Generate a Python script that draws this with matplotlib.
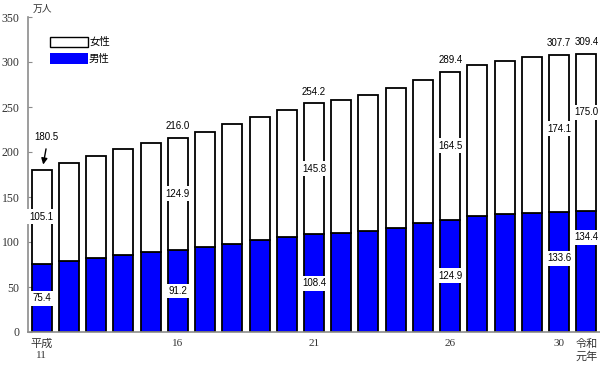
import matplotlib
matplotlib.use("Agg")
import matplotlib.pyplot as plt
from matplotlib.patches import Rectangle
import numpy as np

plt.rcParams['font.family'] = ['Noto Sans CJK JP', 'DejaVu Sans']

# 平成11年 ~ 令和元年 (万人)
years = ["平成\n11", "", "", "", "", "16", "", "", "", "", "21", "", "", "", "", "26", "", "", "", "30", "令和\n元年"]
total = [180.5, 188.0, 196.1, 203.8, 209.7, 216.0, 222.7, 231.3, 239.0, 246.8, 254.2,
         258.3, 263.1, 270.8, 280.4, 289.4, 296.8, 301.6, 305.4, 307.7, 309.4]
male = [75.4, 78.9, 82.6, 85.6, 88.9, 91.2, 94.4, 98.0, 101.8, 105.6, 108.4,
        110.4, 112.2, 116.1, 120.7, 124.9, 128.9, 130.8, 132.6, 133.6, 134.4]
female = [105.1, 109.1, 113.5, 118.2, 120.8, 124.9, 128.3, 133.3, 137.2, 141.2, 145.8,
          147.9, 150.9, 154.7, 159.7, 164.5, 167.9, 170.8, 172.8, 174.1, 175.0]
labeled = [0, 5, 10, 15, 19, 20]
# shift of the female / male labels for the last two bars (so they don't line up)
shift = {19: (5, 15), 20: (22, 38)}

num_font = "Liberation Serif"
val_font = "Liberation Sans"
grey = "#8c8c8c"

fig = plt.figure(figsize=(6, 3.65), dpi=100)
ax = fig.add_axes([28/600, 33/365, 572/600, 315/365])

x = np.arange(len(total))
w = 0.735
ax.bar(x, male, w, color="#0000ff", edgecolor="black", linewidth=1.3, zorder=2)
ax.bar(x, female, w, bottom=male, color="white", edgecolor="black", linewidth=1.3, zorder=2)

box = dict(boxstyle="square,pad=0.25", facecolor="white", edgecolor="none")
vs = 7
for i in labeled:
    df, dm = shift.get(i, (0, 0))
    ax.text(x[i], male[i] + female[i] / 2 + df, "%.1f" % female[i], ha="center", va="center",
            fontsize=vs, family=val_font, bbox=box, zorder=4)
    ax.text(x[i], male[i] / 2 + dm, "%.1f" % male[i], ha="center", va="center",
            fontsize=vs, family=val_font, bbox=box, zorder=4)
    if i == 0:
        ax.text(x[i] + 0.19, total[i] + 36.5, "%.1f" % total[i], ha="center", va="center",
                fontsize=vs, family=val_font)
        ax.annotate("", xy=(x[i] + 0.04, total[i] + 2.5), xytext=(x[i] + 0.18, total[i] + 26),
                    arrowprops=dict(arrowstyle="-|>", color="black", lw=1, mutation_scale=9))
    else:
        ax.text(x[i], total[i] + 13, "%.1f" % total[i], ha="center", va="center",
                fontsize=vs, family=val_font)

ax.set_xlim(-0.5, 20.5)
ax.set_ylim(0, 350)
ax.set_yticks(np.arange(0, 351, 50))
ax.set_xticks(x)
ax.set_xticklabels(years, fontsize=8, family=["Liberation Serif", "Noto Sans CJK JP"], va="top",
                   linespacing=1.25)
for lab in ax.get_yticklabels():
    lab.set_family(num_font)
    lab.set_fontsize(8.5)
ax.tick_params(axis="y", direction="in", length=3, color=grey, pad=6, labelcolor="#333333")
ax.tick_params(axis="x", length=0, pad=5, labelcolor="#333333")
for s in ["top", "right"]:
    ax.spines[s].set_visible(False)
for s in ["left", "bottom"]:
    ax.spines[s].set_color(grey)
    ax.spines[s].set_linewidth(1.2)

fig.text(33/600, 1 - 9/365, "万人", fontsize=7, va="center", ha="left", color="#333333")

# legend
fig.patches.append(Rectangle((50/600, 1 - 47/365), 38/600, 10/365, transform=fig.transFigure,
                             facecolor="white", edgecolor="black", linewidth=1))
fig.patches.append(Rectangle((50/600, 1 - 64/365), 38/600, 11/365, transform=fig.transFigure,
                             facecolor="#0000ff", edgecolor="none"))
fig.text(89/600, 1 - 42/365, "女性", fontsize=7.5, va="center", ha="left")
fig.text(89/600, 1 - 59/365, "男性", fontsize=7.5, va="center", ha="left")

fig.savefig("out.png", dpi=100)
